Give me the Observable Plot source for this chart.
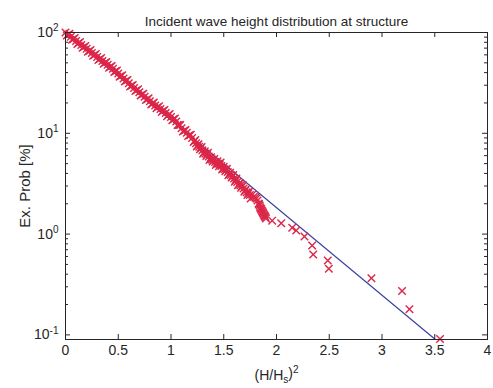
<!DOCTYPE html>
<html><head><meta charset="utf-8">
<script src="https://cdn.jsdelivr.net/npm/d3@7"></script>
<script src="https://cdn.jsdelivr.net/npm/@observablehq/plot@0.6"></script>
<style>html,body{margin:0;padding:0;background:#fff} svg{display:block}</style>
</head><body><div id="chart"></div>
<script>
const title = "Incident wave height distribution at structure";
const yLabel = "Ex. Prob [%]";
const xLabelParts = ["(H/H", "s", ")", "2"];

// measured exceedance probability [%] vs (H/Hs)^2 — main sample
const hs2 = [0,0.025,0.05,0.075,0.1,0.125,0.15,0.175,0.2,0.225,0.25,0.275,0.3,0.325,0.35,0.375,0.4,0.425,0.45,0.475,0.5,0.525,0.55,0.575,0.6,0.625,0.65,0.675,0.7,0.725,0.75,0.775,0.8,0.825,0.85,0.875,0.9,0.925,0.95,0.975,1,1.025,1.05,1.075,1.1,1.125,1.15,1.175,1.2,
  1.215,1.23,1.245,1.26,1.275,1.29,1.305,1.32,1.335,1.35,1.365,1.38,1.395,1.41,1.425,1.44,1.455,1.47,1.485,1.5,1.515,1.53,1.545,1.56,1.575,1.59,1.605,1.62,1.635,1.65,1.665,1.68,1.695,1.71,1.725,1.74,1.755,
  1.77,1.785,1.8,1.82,1.83,1.84,1.85,1.86,1.87,1.88,1.89,1.9,
  1.959,2.045,2.149,2.187,2.265,2.338,2.348,2.486,2.496,2.9,3.19,3.26,3.55];
const exceed = [100,95.1,90.5,86.3,82.4,78.8,75.3,71.9,68.8,65.6,62.7,59.9,57.2,54.7,52.2,50.0,47.8,45.7,43.6,41.3,39.1,37.0,35.0,33.2,31.4,29.7,28.2,26.8,25.5,24.2,23.0,21.8,20.8,19.7,18.9,18.2,17.4,16.7,15.9,15.2,14.5,13.8,13.1,12.1,11.2,10.6,10.1,9.54,8.97,
  8.22,8.58,7.40,7.78,6.96,7.32,6.27,6.63,5.97,6.42,5.43,5.78,5.24,5.57,4.84,5.29,4.70,5.13,4.37,4.65,4.19,4.45,3.84,4.06,3.65,3.86,3.31,3.56,3.05,3.22,2.89,3.06,2.63,2.78,2.44,2.64,2.26,
  2.45,2.35,2.31,2.15,2.01,1.92,1.79,1.71,1.64,1.56,1.50,1.43,
  1.36,1.28,1.155,1.086,0.947,0.77,0.628,0.547,0.453,0.365,0.272,0.18,0.091];

// further measured waves lying between those above (the dense band)
const hs2Between = [0.0125,0.0375,0.0625,0.0875,0.1125,0.1375,0.1625,0.1875,0.2125,0.2375,0.2625,0.2875,0.3125,0.3375,0.3625,0.3875,0.4125,0.4375,0.4625,0.4875,0.5125,0.5375,0.5625,0.5875,0.6125,0.6375,0.6625,0.6875,0.7125,0.7375,0.7625,0.7875,0.8125,0.8375,0.8625,0.8875,0.9125,0.9375,0.9625,0.9875,1.0125,1.0375,1.0625,1.0875,1.1125,1.1375,1.1625,1.1875,
  1.2225,1.2375,1.2525,1.2675,1.2825,1.2975,1.3125,1.3275,1.3425,1.3575,1.3725,1.3875,1.4025,1.4175,1.4325,1.4475,1.4625,1.4775,1.4925,1.5075,1.5225,1.5375,1.5525,1.5675,1.5825,1.5975,1.6125,1.6275,1.6425,1.6575,1.6725,1.6875,1.7025,1.7175,1.7325,1.7475,
  1.81,1.835,1.845,1.855,1.865,1.875,1.885,1.895];
const exceedBetween = [93.3,97.0,84.6,88.1,77.1,80.5,70.4,73.5,64.3,67.0,58.7,61.1,53.5,55.8,48.9,51.1,44.7,46.6,40.6,42.0,36.4,37.6,32.6,33.8,29.2,30.2,26.3,27.3,23.7,24.7,21.4,22.3,19.3,20.2,17.7,18.6,16.3,17.0,14.8,15.5,13.5,14.0,12.1,12.1,10.4,10.8,9.40,9.67,
  8.40,7.97,7.59,7.36,7.13,6.78,6.45,6.29,6.19,5.90,5.60,5.50,5.40,5.19,5.06,4.99,4.91,4.74,4.50,4.41,4.32,4.13,3.95,3.85,3.75,3.57,3.43,3.29,3.13,3.05,2.97,2.84,2.70,2.60,2.54,2.44,
  2.25,1.98,1.85,1.76,1.68,1.60,1.53,1.47];

// Rayleigh reference line (straight on semilog axes)
const rayleighX = [0, 3.5];
const rayleighP = [100, 0.0912];

const xTicks = [0,0.5,1,1.5,2,2.5,3,3.5,4];
const yTicks = [0.1,1,10,100];
const yMinorTicks = [0.2,0.3,0.4,0.5,0.6,0.7,0.8,0.9,2,3,4,5,6,7,8,9,20,30,40,50,60,70,80,90];

const W = 493, H = 388, mL = 65, mR = 6, mT = 32, mB = 49;
const pw = W - mL - mR, ph = H - mT - mB;
const ink = "#262626";

const points = hs2.map((x, i) => ({x, p: exceed[i]}))
  .concat(hs2Between.map((x, i) => ({x, p: exceedBetween[i]})));
const ray = rayleighX.map((x, i) => ({x, p: rayleighP[i]}));

const chart = Plot.plot({
  width: W, height: H,
  marginLeft: mL, marginRight: mR, marginTop: mT, marginBottom: mB,
  style: {fontFamily: "'Liberation Sans', Arial, Helvetica, sans-serif", fontSize: "14px", color: ink, background: "#fff", overflow: "visible"},
  x: {domain: [0, 4]},
  y: {type: "log", domain: [0.09, 100]},
  marks: [
    Plot.line(ray, {x: "x", y: "p", stroke: "#3a44a2", strokeWidth: 1.2}),
    Plot.dot(points, {x: "x", y: "p", symbol: "times", r: 3.5, stroke: "#dc2648", strokeWidth: 1.4}),
    Plot.frame({stroke: ink, strokeWidth: 1}),
    Plot.tickY(yTicks, {y: d => d, insetRight: pw - 5, stroke: ink}),
    Plot.tickY(yTicks, {y: d => d, insetLeft: pw - 5, stroke: ink}),
    Plot.tickY(yMinorTicks, {y: d => d, insetRight: pw - 3, stroke: ink}),
    Plot.tickY(yMinorTicks, {y: d => d, insetLeft: pw - 3, stroke: ink}),
    Plot.tickX(xTicks, {x: d => d, insetTop: ph - 5, stroke: ink}),
    Plot.tickX(xTicks, {x: d => d, insetBottom: ph - 5, stroke: ink}),
    Plot.axisX(xTicks, {tickSize: 0, tickPadding: 6, tickFormat: d => String(d), label: xLabelParts.join(""), labelAnchor: "center", labelArrow: "none", labelOffset: 40}),
    Plot.axisY(yTicks, {tickSize: 0, tickPadding: 7, tickFormat: d => "10^" + Math.round(Math.log10(d)), label: yLabel, labelAnchor: "center", labelArrow: "none", labelOffset: 46, fontSize: 14}),
    Plot.text([title], {frameAnchor: "top", dy: -16, fontSize: 13.5, text: d => d})
  ]
});
document.getElementById("chart").appendChild(chart);

const svg = d3.select(chart);
svg.selectAll('g[aria-label="y-axis tick label"] text').each(function() {
  const t = d3.select(this);
  const parts = t.text().split("^");
  if (parts.length === 2) {
    t.text(parts[0]);
    t.append("tspan").attr("dy", "-0.55em").attr("font-size", "10px").text(parts[1]);
  }
});
svg.selectAll('g[aria-label="y-axis label"] text').attr("font-size", "15px");
svg.selectAll('g[aria-label="x-axis label"] text').each(function() {
  const t = d3.select(this);
  t.text(xLabelParts[0]);
  t.append("tspan").attr("dy", "0.35em").attr("font-size", "10px").text(xLabelParts[1]);
  t.append("tspan").attr("dy", "-0.35em").text(xLabelParts[2]);
  t.append("tspan").attr("dy", "-0.5em").attr("font-size", "10px").text(xLabelParts[3]);
});
</script>
</body></html>
